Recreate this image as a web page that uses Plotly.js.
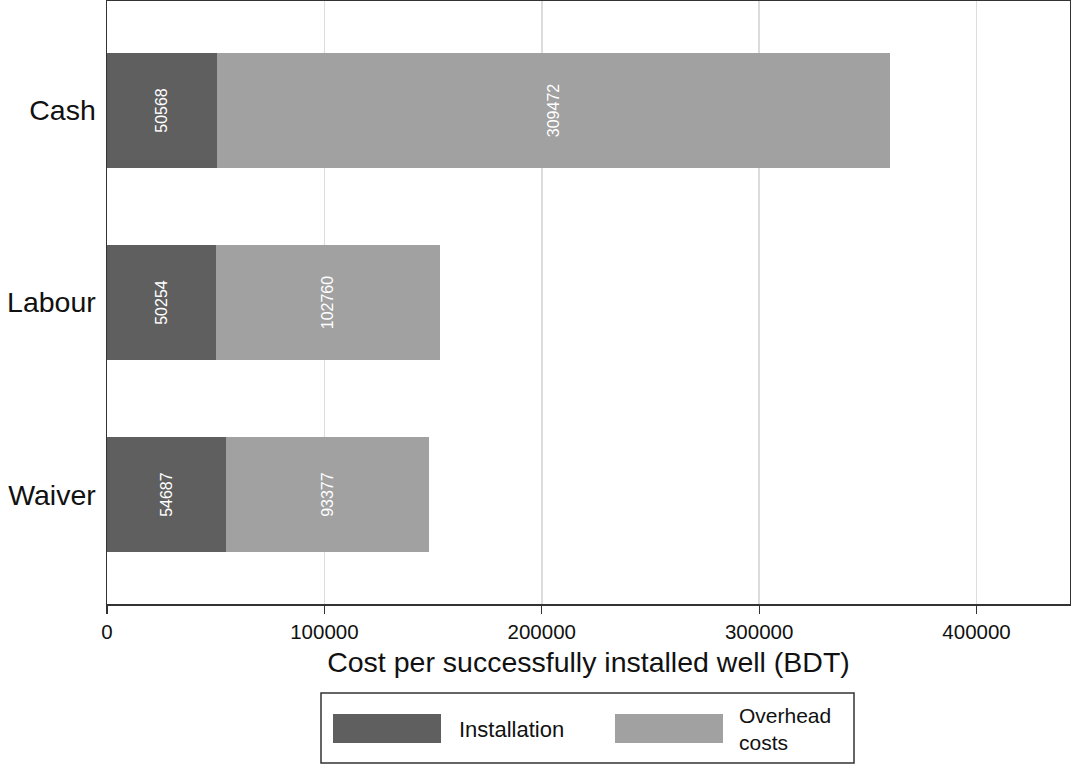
<!DOCTYPE html>
<html>
<head>
<meta charset="utf-8">
<script src="https://cdn.plot.ly/plotly-3.0.1.min.js"></script>
<style>html,body{margin:0;padding:0;background:#fff;}#chart{width:1071px;height:767px;}</style>
</head>
<body>
<div id="chart"></div>
<script>
// ---- data ----
const categories = ["Cash", "Labour", "Waiver"];
const installation = [50568, 50254, 54687];
const overhead = [309472, 102760, 93377];
const seriesNames = ["Installation", "Overhead<br>costs"];
const xTickValues = [0, 100000, 200000, 300000, 400000];
const xTickLabels = ["0", "100000", "200000", "300000", "400000"];
const xTitle = "Cost per successfully installed well (BDT)";

// ---- styling ----
const W = 1071, H = 767;
const M = {l: 107, r: 1, t: 1, b: 163};
const colors = ["#5f5f5f", "#a1a1a1"];
const font = "Liberation Sans, Arial, Helvetica, sans-serif";

const plotW = W - M.l - M.r, plotH = H - M.t - M.b;
const px = x => (x - M.l) / plotW;
const py = y => (H - M.b - y) / plotH;

const mk = (vals, i) => ({
  type: "bar", orientation: "h",
  y: categories, x: vals, name: seriesNames[i],
  marker: {color: colors[i], line: {width: 0}},
  width: 0.6,
  text: vals.map(String),
  textposition: "inside", insidetextanchor: "middle",
  textangle: -90, constraintext: "none",
  textfont: {color: "#ffffff", size: 16, family: font},
  showlegend: false, hoverinfo: "skip"
});

const data = [mk(installation, 0), mk(overhead, 1)];

const shapes = [
  {type: "rect", xref: "paper", yref: "paper", x0: px(321), x1: px(854), y0: py(763), y1: py(693),
   line: {color: "#333", width: 1.5}, fillcolor: "rgba(0,0,0,0)"},
  {type: "rect", xref: "paper", yref: "paper", x0: px(333), x1: px(441), y0: py(743), y1: py(714),
   line: {width: 0}, fillcolor: colors[0]},
  {type: "rect", xref: "paper", yref: "paper", x0: px(615), x1: px(723), y0: py(743), y1: py(714),
   line: {width: 0}, fillcolor: colors[1]}
];
const annotations = [
  {xref: "paper", yref: "paper", x: px(457), y: py(729), xanchor: "left", yanchor: "middle",
   text: seriesNames[0], showarrow: false, font: {size: 22, color: "#111", family: font}},
  {xref: "paper", yref: "paper", x: px(737), y: py(729), xanchor: "left", yanchor: "middle", align: "left",
   text: seriesNames[1], showarrow: false, font: {size: 21, color: "#111", family: font}}
];

const layout = {
  width: W, height: H, margin: M,
  paper_bgcolor: "#fff", plot_bgcolor: "#fff",
  barmode: "stack", bargap: 0.4,
  font: {family: font, color: "#111"},
  showlegend: false,
  xaxis: {
    range: [0, 443000], tickvals: xTickValues, ticktext: xTickLabels,
    showgrid: true, gridcolor: "#dcdcdc", gridwidth: 1.5,
    zeroline: false, showline: true, linecolor: "#333", linewidth: 2, mirror: true,
    ticks: "outside", ticklen: 8, tickwidth: 1.2, tickcolor: "#333",
    tickfont: {size: 20.5, color: "#111"},
    title: {text: xTitle, font: {size: 28.5, color: "#111"}, standoff: 10}
  },
  yaxis: {
    type: "category", categoryorder: "array", categoryarray: categories,
    range: [2.57, -0.57],
    showgrid: false, zeroline: false, showline: true, linecolor: "#333", linewidth: 1.5, mirror: true,
    ticks: "", tickfont: {size: 28.5, color: "#111"}, ticklabelstandoff: 4
  },
  shapes: shapes, annotations: annotations
};

Plotly.newPlot("chart", data, layout, {staticPlot: true, displayModeBar: false});
</script>
</body>
</html>
